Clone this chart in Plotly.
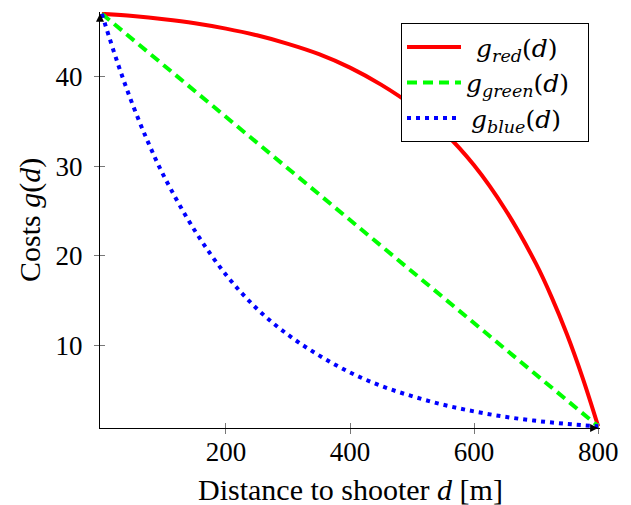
import plotly.graph_objects as go

# distance values (m) and costs
d_red = [0, 50, 100, 150, 200, 250, 300, 350, 400, 450, 500, 550, 600, 650, 700, 725, 750, 775, 800]
g_red = [47, 46.75, 46.4, 45.95, 45.35, 44.6, 43.65, 42.5, 41.0, 39.1, 36.8, 33.9, 30.1, 25.2, 19.1, 15.4, 11.2, 6.4, 1]
d_blue = [0, 25, 50, 75, 100, 150, 200, 250, 300, 350, 400, 450, 500, 550, 600, 650, 700, 750, 800]
g_blue = [47, 41.6, 36.8, 32.6, 28.9, 22.8, 17.9, 14.1, 11.2, 8.9, 7.0, 5.5, 4.35, 3.4, 2.65, 2.05, 1.6, 1.25, 1.0]
d_green = [0, 800]
g_green = [47, 1]

x_ticks = [200, 400, 600, 800]
y_ticks = [10, 20, 30, 40]

x_title = "Distance to shooter <i>d</i> [m]"
y_title = "Costs <i>g</i>(<i>d</i>)"
names = ["\u2009\u2009<i>g</i><sub><i>red</i></sub>(<i>d</i>)",
         "<i>g</i><sub><i>green</i></sub>(<i>d</i>) \u2009",
         "\u2009<i>g</i><sub><i>blue</i></sub>(<i>d</i>)"]

FONT = "Liberation Serif"
LEG_FONT = "DejaVu Serif"

fig = go.Figure()
fig.add_trace(go.Scatter(x=d_red, y=g_red, mode="lines", line=dict(color="#ff0000", width=4, shape="spline", smoothing=1),
                         name=names[0]))
fig.add_trace(go.Scatter(x=d_green, y=g_green, mode="lines", line=dict(color="#00ff00", width=4, dash="10px,6px"),
                         name=names[1]))
fig.add_trace(go.Scatter(x=d_blue, y=g_blue, mode="lines", line=dict(color="#0000ff", width=4, dash="4px,5px", shape="spline", smoothing=1),
                         name=names[2]))
# invisible trace on overlay axis to show inside ticks
fig.add_trace(go.Scatter(x=[0], y=[1], xaxis="x2", yaxis="y2", mode="markers", marker=dict(opacity=0), showlegend=False, hoverinfo="skip"))
# axis arrowheads
fig.add_trace(go.Scatter(x=[800, -3], y=[0.8, 47.0], mode="markers", showlegend=False, hoverinfo="skip", cliponaxis=False,
                         marker=dict(symbol=["arrow-right", "arrow-up"], size=8, color="black")))

fig.update_layout(
    width=631, height=505,
    margin=dict(l=100, r=31, t=12, b=77),
    paper_bgcolor="white", plot_bgcolor="white",
    font=dict(family=FONT, size=27, color="black"),
    showlegend=True,
    legend=dict(x=0.978, y=0.973, xanchor="right", yanchor="top", bordercolor="black", borderwidth=1,
                bgcolor="white", font=dict(family=LEG_FONT, size=25), itemwidth=54, tracegroupgap=0),
    xaxis=dict(range=[-3, 803], tickvals=x_ticks, showgrid=False, zeroline=False, showline=True, linecolor="black",
               linewidth=1.3, ticks="outside", ticklen=5, tickcolor="#777", tickwidth=1, automargin=False,
               ticklabelstandoff=-6),
    yaxis=dict(range=[0.8, 47.2], tickvals=y_ticks, showgrid=False, zeroline=False, showline=True, linecolor="black",
               linewidth=1.3, ticks="outside", ticklen=5, tickcolor="#777", tickwidth=1, automargin=False,
               ticklabelstandoff=6),
    xaxis2=dict(overlaying="x", matches="x", tickvals=x_ticks, showticklabels=False, ticks="inside", ticklen=5,
                tickcolor="#777", tickwidth=1, showgrid=False, zeroline=False, showline=False),
    yaxis2=dict(overlaying="y", matches="y", tickvals=y_ticks, showticklabels=False, ticks="inside", ticklen=5,
                tickcolor="#777", tickwidth=1, showgrid=False, zeroline=False, showline=False),
)

fig.add_annotation(text=x_title, xref="paper", yref="paper", x=0.5, y=-0.149, xanchor="center", yanchor="middle",
                   showarrow=False, font=dict(family=FONT, size=30))
fig.add_annotation(text=y_title, xref="paper", yref="paper", x=-0.14, y=0.5, xanchor="center", yanchor="middle",
                   textangle=-90, showarrow=False, font=dict(family=FONT, size=30))

fig.write_html("out.html")
